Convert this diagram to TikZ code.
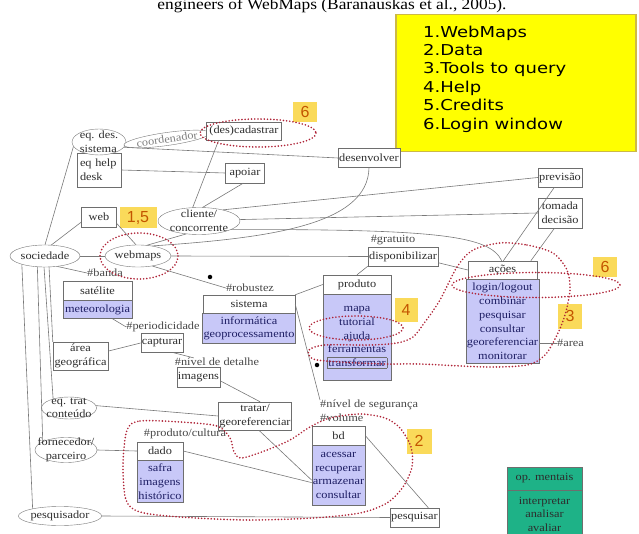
\documentclass[tikz,border=0pt]{standalone}
\usepackage{fontspec}
\setmainfont{Liberation Serif}[FakeStretch=1.12]
\newfontfamily\legendfont{DejaVu Sans}[FakeStretch=1.2]
\newfontfamily\numfont{Liberation Sans}
\usetikzlibrary{positioning,shapes.geometric}
\definecolor{linegray}{RGB}{120,120,120}
\definecolor{boxgray}{RGB}{110,110,110}
\definecolor{lav}{RGB}{200,200,248}
\definecolor{navy}{RGB}{30,30,100}
\definecolor{ink}{RGB}{45,45,45}
\definecolor{taggray}{RGB}{70,70,70}
\definecolor{hoopred}{RGB}{175,35,55}
\definecolor{numyellow}{RGB}{250,218,90}
\definecolor{numtext}{RGB}{195,85,0}
\definecolor{legyellow}{RGB}{255,255,0}
\definecolor{legedge}{RGB}{205,185,70}
\definecolor{opgreen}{RGB}{30,178,135}
\setlength{\fboxsep}{1pt}
\setlength{\fboxrule}{0.6pt}

\begin{document}
\begin{tikzpicture}
[
    x=1pt, y=-1pt,
    txt/.style={font=\fontsize{11}{13.8}\selectfont},
    box/.style={txt, draw=boxgray, fill=white, text=ink, inner sep=1pt, align=center},
    ops/.style={box, fill=lav, text=navy},
    actor/.style={txt, ellipse, draw=linegray, fill=white, text=ink, inner sep=0pt},
    tag/.style={txt, text=taggray, inner sep=0pt},
    num/.style={fill=numyellow, text=numtext, font=\numfont\fontsize{16}{16}\selectfont, inner sep=0pt},
    link/.style={draw=linegray, line width=0.6pt},
    hoop/.style={draw=hoopred, line width=1.8pt, line cap=round, dash pattern=on 0pt off 3.2pt},
    dotmark/.style={circle, fill=black, inner sep=0pt, minimum size=4.5pt},
]
\useasboundingbox (0,0) rectangle (639,534);
\node [font=\fontsize{15.5}{16}\selectfont, anchor=base] (caption) at (332,10) {engineers of WebMaps (Baranauskas et al., 2005).};
\node [fill=legyellow, draw=legedge, line width=1.5pt, minimum width=240, minimum height=137, anchor=north west] (legend) at (395,14) {};
\node [font=\legendfont\fontsize{15}{18.4}\selectfont, align=left, anchor=north west, inner sep=0pt] (items) at (423,25.5)
{1.WebMaps\\2.Data\\3.Tools to query\\4.Help\\5.Credits\\6.Login window};

\node [box, minimum width=44, minimum height=34, text width=38, align=left] (eqhelp) at (99,170) {eq help\\desk};
\node [actor, minimum width=54, minimum height=26, label={[txt, text=ink, align=left]center:eq. des.\\sistema}] (eqdes) at (99,142) {};
\node [actor, rotate=8, minimum width=80, minimum height=13, text=gray] (coord) at (167,139) {coordenador};
\node [box, minimum width=75, minimum height=18] (cadastrar) at (244,131) {(des)cadastrar};
\node [box, minimum width=39, minimum height=20] (apoiar) at (245,173) {apoiar};
\node [box, minimum width=59, minimum height=19] (desenvolver) at (369,158) {desenvolver};
\node [box, minimum width=35, minimum height=20] (web) at (99,217) {web};
\node [actor, minimum width=82, minimum height=27, label={[txt, text=ink, align=center]center:cliente/\\concorrente}] (cliente) at (199,221) {};
\node [actor, minimum width=70, minimum height=22] (sociedade) at (45,256) {sociedade};
\node [actor, minimum width=57, minimum height=22] (webmaps) at (138,256) {webmaps};
\node [tag] (banda) at (105,273) {\#banda};
\node [box, minimum width=69, minimum height=19] (satelite) at (97.5,290.5) {satélite};
\node [ops, minimum width=69, minimum height=18, below=0pt of satelite] (meteo) {meteorologia};
\node [dotmark] (dota) at (210,277) {};
\node [tag] (robustez) at (250,288) {\#robustez};
\node [box, minimum width=92, minimum height=18] (sistema) at (249,304) {sistema};
\node [ops, minimum width=92, minimum height=30, below=0pt of sistema] (sistemaops) {informática\\geoprocessamento};
\node [tag] (periodicidade) at (163,327) {\#periodicidade};
\node [box, minimum width=40, minimum height=19] (capturar) at (162,343) {capturar};
\node [box, minimum width=55, minimum height=28] (area) at (80.5,356) {área\\geográfica};
\node [tag] (detalhe) at (217,362) {\#nível de detalhe};
\node [box, minimum width=43, minimum height=20] (imagens) at (198.5,377) {imagens};
\node [actor, minimum width=55, minimum height=22, label={[txt, text=ink, align=center]center:eq. trat\\conteúdo}] (eqtrat) at (69,408) {};
\node [box, minimum width=69, minimum height=28] (tratar) at (255,416) {tratar/\\georeferenciar};
\node [actor, minimum width=62, minimum height=25, label={[txt, text=ink, align=center]center:fornecedor/\\parceiro}] (fornecedor) at (66,450) {};
\node [tag] (cultura) at (185,434) {\#produto/cultura};
\node [box, minimum width=46, minimum height=18] (dado) at (160,451) {dado};
\node [ops, minimum width=46, minimum height=42, below=0pt of dado] (dadoops) {safra\\imagens\\histórico};
\node [actor, minimum width=66, minimum height=19] (pesquisador) at (60,516) {pesquisador};
\node [box, minimum width=47, minimum height=19] (pesquisar) at (414.5,517.5) {pesquisar};
\node [tag, align=left, anchor=north west] (seguranca) at (320,400) {\#nível de segurança\\\#volume};
\node [box, minimum width=53, minimum height=19] (bd) at (338.5,435.5) {bd};
\node [ops, minimum width=53, minimum height=60, below=0pt of bd] (bdops) {acessar\\recuperar\\armazenar\\consultar};
\node [box, minimum width=68, minimum height=19] (produto) at (357,284.5) {produto};
\node [ops, minimum width=68, minimum height=86, below=0pt of produto] (produtoops) {mapa\\tutorial\\ajuda\\ferramentas\\\fcolorbox{boxgray}{lav}{transformar}};
\node [dotmark] (dotb) at (317,365) {};
\node [tag] (gratuito) at (393,240) {\#gratuito};
\node [box, minimum width=70, minimum height=19] (disponibilizar) at (403,256.5) {disponibilizar};
\node [box, minimum width=69, minimum height=18] (acoes) at (502.5,270) {ações};
\node [ops, minimum width=69, minimum height=84, below=0pt of acoes] (acoesops) {login/logout\\combinar\\pesquisar\\consultar\\georeferenciar\\monitorar};
\node [tag, anchor=west] (areatag) at (557,343) {\#area};
\node [box, minimum width=44, minimum height=19] (previsao) at (560,177.5) {previsão};
\node [box, minimum width=44, minimum height=30] (tomada) at (560,213) {tomada\\decisão};
\node [box, fill=opgreen, minimum width=75, minimum height=23] (mentais) at (544.5,478.5) {op. mentais};
\node [box, fill=opgreen, minimum width=75, minimum height=48, below=0pt of mentais] (mentaisops) {interpretar\\analisar\\avaliar};

\node [num, minimum width=37, minimum height=21] (n15) at (138,218) {1,5};
\node [num, minimum width=24, minimum height=20] (n6a) at (305,112) {6};
\node [num, minimum width=24, minimum height=20] (n6b) at (605,267) {6};
\node [num, minimum width=23, minimum height=24] (n4) at (406,310) {4};
\node [num, minimum width=24, minimum height=25] (n3) at (570,316) {3};
\node [num, minimum width=25, minimum height=25] (n2) at (419,441) {2};

\draw [link] (eqdes.-12) -- (desenvolver.west);
\draw [link] (eqhelp.east) -- (apoiar.west);
\draw [link] (cadastrar.200) -- (cliente.115);
\draw [link] (apoiar.-100) -- (cliente.75);
\draw [link] (cliente.25) -- (previsao.west);
\draw [link] (cliente.2) -- (tomada.west);
\draw [link] (cliente.-15) .. controls (440,229) and (490,236) .. (acoes.95);
\draw [link] (desenvolver.south) .. controls (368,225) and (270,238) .. (webmaps.35);
\draw [link] (sociedade.60) -- (web.196);
\draw [link] (sociedade.north) -- (eqdes.190);
\draw [link] (sociedade.east) -- (webmaps.west);
\draw [link] (webmaps.east) -- (disponibilizar.west);
\draw [link] (web.-20) -- (webmaps.100);
\draw [link] (webmaps.50) -- (cliente.-135);
\draw [link] (webmaps.-35) -- (robustez.west);
\draw [link] (sociedade.-40) -- (banda.west);
\draw [link] (sociedade.-160) -- (pesquisador.165);
\draw [link] (sociedade.-125) -- (fornecedor.160);
\draw [link] (sociedade.-95) -- (eqtrat.150);
\draw [link] (sociedade.-70) -- (area.north west);
\draw [link] (meteo.-32) -- (periodicidade.west);
\draw [link] (area.10) -- (capturar.west);
\draw [link] (capturar.-40) -- (detalhe.170);
\draw [link] (imagens.-10) -- (tratar.70);
\draw [link] (eqtrat.5) -- (tratar.west);
\draw [link] (tratar.-75) -- (bdops.190);
\draw [link] (fornecedor.east) -- (dado.west);
\draw [link] (dado.east) -- (bdops.195);
\draw [link] (pesquisador.east) -- (pesquisar.west);
\draw [link] (bd.east) -- (pesquisar.35);
\draw [link] (sistema.north east) -- (produto.west);
\draw [link] (sistema.east) -- (seguranca.north west);
\draw [link] (produto.north) -- (disponibilizar.south west);
\draw [link] (disponibilizar.-10) -- (acoes.west);
\draw [link] (previsao.-120) -- (acoes.85);
\draw [link] (tomada.-110) -- (acoes.18);
\draw [link] (areatag.west) -- (areatag.west -| acoesops.east);

\draw [hoop] (258,133) ellipse [x radius=58, y radius=14];
\draw [hoop] (139,256) ellipse [x radius=39, y radius=23];
\draw [hoop] (536,285) ellipse [x radius=84, y radius=12.5];
\draw [hoop] (356,328) ellipse [x radius=47, y radius=12];
\draw [hoop] plot [smooth cycle] coordinates {(500,243) (527,245) (553,253) (567,270) (570,290) (565,315) (557,335) (545,355) (527,365) (487,367) (420,364) (385,364) (340,362) (313,359) (309,350) (325,345) (370,345) (397,343) (413,337) (425,322) (440,300) (457,267) (473,250)};
\draw [hoop] plot [smooth cycle] coordinates {(127,430) (140,421) (180,422) (217,426) (230,438) (234,452) (242,458) (267,450) (290,440) (310,427) (330,418) (360,414) (385,418) (400,428) (411,447) (412,467) (403,487) (387,503) (360,513) (313,518) (247,520) (180,517) (140,512) (126,500) (123,465)};
\end{tikzpicture}
\end{document}
